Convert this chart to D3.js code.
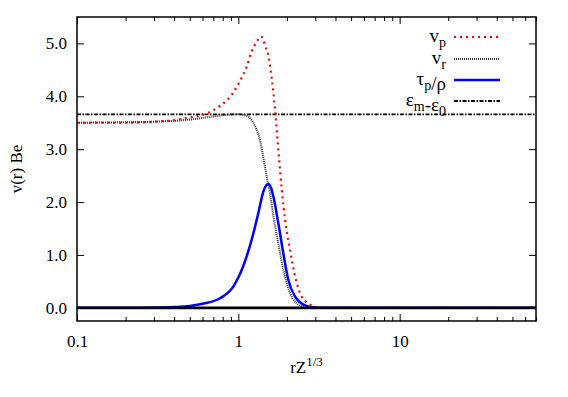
<!DOCTYPE html>
<html>
<head>
<meta charset="utf-8">
<script src="https://cdn.jsdelivr.net/npm/d3@7"></script>
<style>
  body { margin: 0; background: #fff; }
  svg, svg text { font-family: "Liberation Serif", "DejaVu Serif", serif; }
  .axis path { display: none; }
  .axis line { stroke: #000; stroke-width: 1; }
  .axis text { font-size: 17px; fill: #000; font-family: "Liberation Serif", serif; }
</style>
</head>
<body>
<div id="chart"></div>
<script>
var width = 568,
    height = 397,
    margin = {top: 17, right: 32, bottom: 76, left: 77};

// rZ^(1/3) sample points and the curves
var vpX   = [0.1, 0.2, 0.3, 0.4, 0.5, 0.64, 0.77, 0.91, 1.02, 1.13, 1.21, 1.30, 1.37, 1.42, 1.46, 1.54, 1.59, 1.65, 1.69, 1.73, 1.77, 1.86, 1.95, 2.09, 2.25, 2.47, 2.79, 3.06, 3.5, 70];
var vpY   = [3.50, 3.50, 3.52, 3.55, 3.60, 3.68, 3.82, 4.03, 4.28, 4.57, 4.85, 5.03, 5.13, 5.10, 4.97, 4.75, 4.47, 4.06, 3.74, 3.36, 2.99, 2.23, 1.66, 1.10, 0.59, 0.21, 0.06, 0.01, 0, 0];

var vrX   = [0.1, 0.2, 0.3, 0.5, 0.7, 0.9, 1.0, 1.1, 1.18, 1.25, 1.30, 1.35, 1.40, 1.50, 1.57, 1.65, 1.77, 1.90, 2.09, 2.36, 2.66, 3.0, 70];
var vrY   = [3.50, 3.51, 3.52, 3.56, 3.62, 3.655, 3.66, 3.64, 3.59, 3.48, 3.36, 3.22, 2.99, 2.48, 2.17, 1.73, 1.22, 0.72, 0.28, 0.06, 0.01, 0, 0];

var tauX  = [0.1, 0.2, 0.3, 0.4, 0.5, 0.61, 0.77, 0.93, 1.07, 1.21, 1.33, 1.43, 1.53, 1.59, 1.65, 1.77, 1.90, 2.04, 2.25, 2.53, 2.92, 3.5, 70];
var tauY  = [0, 0.002, 0.006, 0.015, 0.035, 0.08, 0.18, 0.40, 0.78, 1.29, 1.79, 2.20, 2.34, 2.28, 2.10, 1.60, 1.03, 0.53, 0.21, 0.06, 0.01, 0, 0];

var epsX  = [0.1, 70];
var epsY  = [3.66, 3.66];

var xMajor = [0.1, 1, 10];
var xMinor = [0.2, 0.3, 0.4, 0.5, 0.6, 0.7, 0.8, 0.9, 2, 3, 4, 5, 6, 7, 8, 9, 20, 30, 40, 50, 60, 70];
var yMajor = [0, 1, 2, 3, 4, 5];

var x = d3.scaleLog().domain([0.1, 70]).range([margin.left, width - margin.right]);
var y = d3.scaleLinear().domain([-0.25, 5.5]).range([height - margin.bottom, margin.top]);

var svg = d3.select("#chart").append("svg")
    .attr("width", width)
    .attr("height", height);

// ticks on all four sides, pointing inward
svg.append("g").attr("class", "axis")
    .attr("transform", "translate(0," + y.range()[0] + ")")
    .call(d3.axisBottom(x).tickValues(xMajor).tickSize(-7).tickPadding(14)
        .tickFormat(function (d) { return d < 1 ? "0.1" : d3.format("d")(d); }));
svg.append("g").attr("class", "axis")
    .attr("transform", "translate(0," + y.range()[0] + ")")
    .call(d3.axisBottom(x).tickValues(xMinor).tickSize(-4).tickFormat(""));
svg.append("g").attr("class", "axis")
    .attr("transform", "translate(0," + y.range()[1] + ")")
    .call(d3.axisTop(x).tickValues(xMajor).tickSize(-7).tickFormat(""));
svg.append("g").attr("class", "axis")
    .attr("transform", "translate(0," + y.range()[1] + ")")
    .call(d3.axisTop(x).tickValues(xMinor).tickSize(-4).tickFormat(""));
svg.append("g").attr("class", "axis")
    .attr("transform", "translate(" + x.range()[0] + ",0)")
    .call(d3.axisLeft(y).tickValues(yMajor).tickSize(-7).tickPadding(10).tickFormat(d3.format(".1f")));
svg.append("g").attr("class", "axis")
    .attr("transform", "translate(" + x.range()[1] + ",0)")
    .call(d3.axisRight(y).tickValues(yMajor).tickSize(-7).tickFormat(""));
svg.selectAll(".axis").attr("font-family", null);

svg.append("clipPath").attr("id", "plot-clip")
    .append("rect")
    .attr("x", x.range()[0]).attr("y", y.range()[1])
    .attr("width", x.range()[1] - x.range()[0])
    .attr("height", y.range()[0] - y.range()[1]);

var plot = svg.append("g").attr("clip-path", "url(#plot-clip)");

var line = d3.line()
    .x(function (d) { return x(d[0]); })
    .y(function (d) { return y(d[1]); })
    .curve(d3.curveMonotoneX);

function pairs(xs, ys) {
    return xs.map(function (v, i) { return [v, ys[i]]; });
}

var series = [
    {name: "eps", data: pairs(epsX, epsY), color: "#000", width: 1.8, dash: "4,1.5,1.5,1.5"},
    {name: "vr", data: pairs(vrX, vrY), color: "#333", width: 2, dash: "1,1"},
    {name: "tau", data: pairs(tauX, tauY), color: "#0000ff", width: 2.5, dash: null},
    {name: "vp", data: pairs(vpX, vpY), color: "#ff0000", width: 2.2, dash: "2,4"}
];

series.forEach(function (s) {
    plot.append("path")
        .datum(s.data)
        .attr("d", line)
        .attr("fill", "none")
        .attr("stroke", s.color)
        .attr("stroke-width", s.width)
        .attr("stroke-dasharray", s.dash);
});

// zero axis, over the curves
svg.append("path")
    .attr("d", "M" + x.range()[0] + "," + y(0) + "H" + x.range()[1])
    .attr("fill", "none")
    .attr("stroke", "#000")
    .attr("stroke-width", 2.8);

// frame
svg.append("rect")
    .attr("x", x.range()[0]).attr("y", y.range()[1])
    .attr("width", x.range()[1] - x.range()[0])
    .attr("height", y.range()[0] - y.range()[1])
    .attr("fill", "none")
    .attr("stroke", "#000")
    .attr("stroke-width", 1.5);

// legend
var legend = [
    {main: ["v"], sub: ["p"], key: "vp"},
    {main: ["v"], sub: ["r"], key: "vr"},
    {main: ["τ", "/ρ"], sub: ["p"], key: "tau"},
    {main: ["ε", "-ε"], sub: ["m", "0"], key: "eps"}
];
var legendY = [37, 59, 80, 101];

legend.forEach(function (l, i) {
    var s = series.find(function (d) { return d.name === l.key; });
    var t = svg.append("text")
        .attr("x", 446)
        .attr("y", legendY[i] + 5)
        .attr("text-anchor", "end")
        .style("font-size", "19px");
    l.main.forEach(function (m, j) {
        t.append("tspan").text(m);
        if (l.sub[j] !== undefined) {
            t.append("tspan").attr("dy", 5).style("font-size", "14px").text(l.sub[j]);
            t.append("tspan").attr("dy", -5).text("");
        }
    });
    svg.append("line")
        .attr("x1", 454).attr("x2", 500)
        .attr("y1", legendY[i]).attr("y2", legendY[i])
        .attr("stroke", s.color)
        .attr("stroke-width", s.width)
        .attr("stroke-dasharray", s.dash);
});

// axis titles
svg.append("text")
    .attr("transform", "translate(22," + ((y.range()[0] + y.range()[1]) / 2) + ") rotate(-90)")
    .attr("text-anchor", "middle")
    .style("font-size", "17px")
    .text("v(r) Be");

var xt = svg.append("text")
    .attr("x", (x.range()[0] + x.range()[1]) / 2)
    .attr("y", 373)
    .attr("text-anchor", "middle")
    .style("font-size", "17px");
xt.append("tspan").text("rZ");
xt.append("tspan").attr("dy", -7).style("font-size", "13px").text("1/3");
</script>
</body>
</html>
